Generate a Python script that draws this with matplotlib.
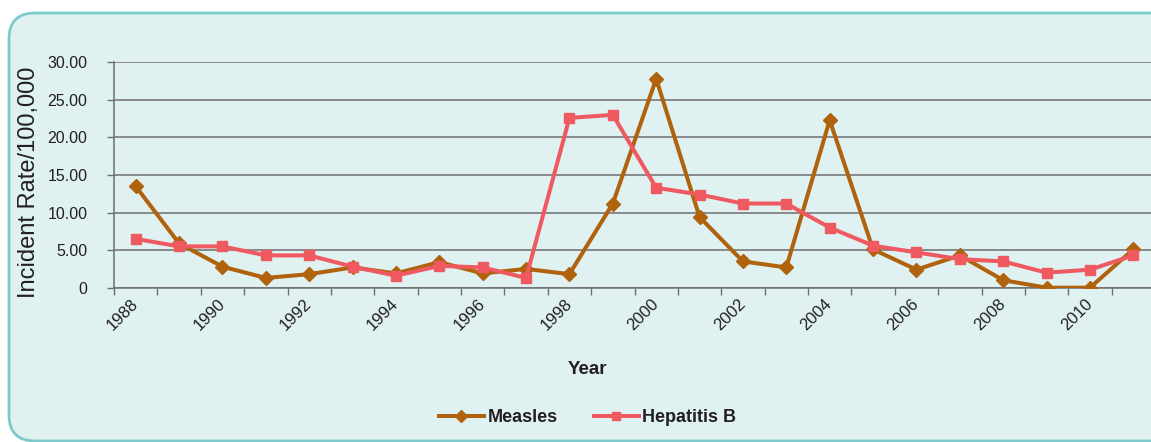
# -*- coding: utf-8 -*-
"""
Measles and Hepatitis B incident rate per 100,000, 1988-2011
"""
import matplotlib
matplotlib.use('Agg')
import matplotlib.pyplot as plt
from matplotlib.patches import FancyBboxPatch

plt.rcParams['font.family'] = ['Liberation Sans', 'DejaVu Sans']

# data read per year
years = list(range(1988, 2012))
measles = [13.5, 5.9, 2.8, 1.3, 1.8, 2.7, 1.9, 3.4, 1.9, 2.5, 1.8, 11.2,
           27.8, 9.4, 3.5, 2.7, 22.3, 5.1, 2.4, 4.3, 1.0, 0.0, 0.0, 5.1]
hepb = [6.5, 5.5, 5.5, 4.3, 4.3, 2.8, 1.6, 2.9, 2.7, 1.3, 22.6, 23.0,
        13.3, 12.4, 11.2, 11.2, 8.0, 5.6, 4.7, 3.8, 3.5, 2.0, 2.4, 4.3]
yticks = [0, 5, 10, 15, 20, 25, 30]
ytick_labels = ['0', '5.00', '10.00', '15.00', '20.00', '25.00', '30.00']

bg = '#E0F1F1'
edge = '#7CCACC'
txt = '#231F20'
brown = '#B0620D'
pink = '#EF5A60'

W, H = 1151, 442
fig = plt.figure(figsize=(W/100, H/100), dpi=100)
fig.patch.set_facecolor('white')

# rounded panel behind the chart
box = FancyBboxPatch((9/100, 1/100), 11.7, 4.28,
                     boxstyle='round,pad=0,rounding_size=0.26',
                     transform=fig.dpi_scale_trans,
                     facecolor=bg, edgecolor=edge, linewidth=2, zorder=-5)
fig.patches.append(box)

left, right, top, bottom = 114, 1155, 62.3, 287.7
ax = fig.add_axes([left/W, 1 - bottom/H, (right-left)/W, (bottom-top)/H])
ax.set_facecolor('none')

x = list(range(len(years)))
ax.plot(x, measles, color=brown, lw=2.9, marker='D', ms=7.5, label='Measles', zorder=3)
ax.plot(x, hepb, color=pink, lw=2.9, marker='s', ms=7.5, label='Hepatitis B', zorder=3)

ax.set_xlim(-0.5, len(years) - 0.5)
ax.set_ylim(0, 30)

ax.set_yticks(yticks)
ax.set_yticklabels(ytick_labels)
ax.yaxis.grid(True, color='#6E6E6E', lw=1.1)
ax.set_axisbelow(True)

# labels every other year, tick marks between categories
ax.set_xticks(x[::2])
ax.set_xticklabels([str(y) for y in years[::2]], rotation=45, ha='right',
                   va='center', rotation_mode='anchor')
ax.set_xticks([i - 0.5 for i in range(len(years) + 1)], minor=True)
ax.tick_params(axis='x', which='major', length=0, pad=10, labelsize=12, labelcolor=txt)
ax.tick_params(axis='x', which='minor', length=5, color='#6E6E6E', width=1)
ax.tick_params(axis='y', length=5, color='#6E6E6E', width=1, pad=14,
               labelsize=11.5, labelcolor=txt)

for s in ['top', 'right']:
    ax.spines[s].set_visible(False)
for s in ['left', 'bottom']:
    ax.spines[s].set_color('#6E6E6E')
    ax.spines[s].set_linewidth(1.1)

ax.set_ylabel('Incident Rate/100,000', fontsize=17, color=txt)
ax.yaxis.set_label_coords(-0.071, 0.469)

fig.text(587.5/W, 1 - 370/H, 'Year', ha='center', va='center',
         fontsize=13.5, fontweight='bold', color=txt)

fig.legend(loc='center', bbox_to_anchor=(587.5/W, 1 - 418/H), ncol=2,
           frameon=False, prop={'size': 13, 'weight': 'bold'},
           handlelength=2.5, handletextpad=0.2, columnspacing=2.0,
           markerscale=0.8, labelcolor=txt)

fig.savefig('out.png', dpi=100, facecolor='white')
